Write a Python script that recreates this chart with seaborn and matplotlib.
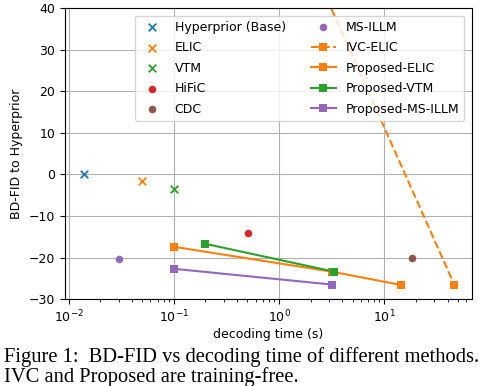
import matplotlib
matplotlib.use("Agg")
import matplotlib.pyplot as plt
import seaborn as sns
import pandas as pd

# single points (decoding time s, BD-FID)
base_names = ["Hyperprior (Base)", "ELIC", "VTM", "HiFiC", "CDC", "MS-ILLM"]
base_time = [0.014, 0.05, 0.1, 0.51, 18.3, 0.03]
base_fid = [0.0, -1.5, -3.6, -14.1, -20.0, -20.4]
base_marker = ["x", "x", "x", "o", "o", "o"]
base_color = ["tab:blue", "tab:orange", "tab:green", "tab:red", "tab:brown", "tab:purple"]

# curves
ivc_time = [2.0, 46.5]
ivc_fid = [51.0, -26.6]
prop_elic_time = [0.1, 3.2, 14.5]
prop_elic_fid = [-17.4, -23.4, -26.6]
prop_vtm_time = [0.2, 3.35]
prop_vtm_fid = [-16.7, -23.4]
prop_illm_time = [0.1, 3.2]
prop_illm_fid = [-22.7, -26.5]

fig = plt.figure(figsize=(4.8, 3.86), dpi=100)
ax = fig.add_axes([0.135, 0.225, 0.848, 0.754])

for name, t, f, m, c in zip(base_names, base_time, base_fid, base_marker, base_color):
    sns.scatterplot(x=[t], y=[f], marker=m, color=c, s=30, label=name, ax=ax,
                    linewidth=1.3 if m == "x" else 0, zorder=3)

curves = [
    ("IVC-ELIC", ivc_time, ivc_fid, "tab:orange", "--"),
    ("Proposed-ELIC", prop_elic_time, prop_elic_fid, "tab:orange", "-"),
    ("Proposed-VTM", prop_vtm_time, prop_vtm_fid, "tab:green", "-"),
    ("Proposed-MS-ILLM", prop_illm_time, prop_illm_fid, "tab:purple", "-"),
]
for name, t, f, c, ls in curves:
    df = pd.DataFrame({"t": t, "f": f})
    sns.lineplot(data=df, x="t", y="f", color=c, linestyle=ls, marker="s",
                 markersize=6, markeredgewidth=0, linewidth=1.5, label=name, ax=ax)

ax.set_xscale("log")
ax.set_xlim(0.0092, 68)
ax.set_ylim(-30, 40)
ax.set_yticks(range(-30, 41, 10))
ax.grid(True, which="major", color="#b0b0b0", linewidth=0.8)
ax.set_axisbelow(True)
ax.set_xlabel("decoding time (s)", fontsize=9, labelpad=1.5)
ax.set_ylabel("BD-FID to Hyperprior", fontsize=9)
ax.tick_params(labelsize=9)
ax.legend(ncol=2, loc="upper right", fontsize=9, handlelength=2.0,
          labelspacing=0.6, columnspacing=2.0, borderaxespad=0.6)

fig.text(0.008, 0.062, "Figure 1:  BD-FID vs decoding time of different methods.",
         family="Liberation Serif", fontsize=14.8, va="baseline")
fig.text(0.008, 0.010, "IVC and Proposed are training-free.",
         family="Liberation Serif", fontsize=14.8, va="baseline")

fig.savefig("out.png", dpi=100)
